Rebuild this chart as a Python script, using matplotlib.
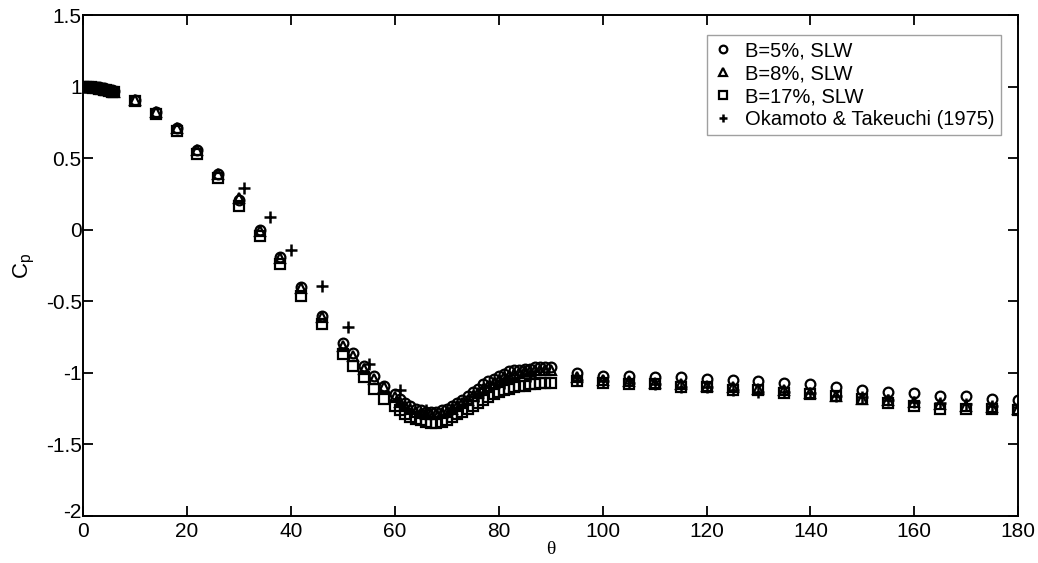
import numpy as np
import matplotlib
matplotlib.use("Agg")
import matplotlib.pyplot as plt
import matplotlib.transforms as mtransforms

# pressure coefficient around the cylinder

# stagnation region (0..6 deg, every 0.5)
theta_front = [0, 0.5, 1, 1.5, 2, 2.5, 3, 3.5, 4, 4.5, 5, 5.5, 6]
cp5_front = [1.0, 1.0, 1.0, 1.0, 1.0, 0.995, 0.995, 0.99, 0.99, 0.985, 0.98, 0.975, 0.97]
cp8_front = [1.0, 1.0, 1.0, 1.0, 0.995, 0.995, 0.99, 0.99, 0.985, 0.98, 0.975, 0.97, 0.965]
cp17_front = [1.0, 1.0, 0.995, 0.995, 0.99, 0.99, 0.985, 0.985, 0.98, 0.975, 0.97, 0.965, 0.96]

# coarse taps 10..58 deg
theta_mid = [10, 14, 18, 22, 26, 30, 34, 38, 42, 46, 50, 52, 54, 56, 58]
cp5_mid = [0.91, 0.82, 0.71, 0.56, 0.39, 0.21, 0.0, -0.19, -0.4, -0.6, -0.79, -0.86, -0.95, -1.02, -1.09]
cp8_mid = [0.91, 0.82, 0.71, 0.56, 0.39, 0.22, -0.01, -0.2, -0.41, -0.61, -0.81, -0.88, -0.97, -1.04, -1.1]
cp17_mid = [0.9, 0.81, 0.69, 0.53, 0.36, 0.17, -0.04, -0.24, -0.46, -0.66, -0.87, -0.95, -1.03, -1.11, -1.18]

# dense taps 60..90 deg
theta_dense = list(range(60, 91))
cp5_dense = [-1.15, -1.18, -1.21, -1.23, -1.25, -1.26, -1.27, -1.27, -1.27, -1.26, -1.25,
             -1.23, -1.21, -1.19, -1.16, -1.13, -1.11, -1.08, -1.06, -1.04, -1.02,
             -1.01, -0.99, -0.98, -0.98, -0.97, -0.97, -0.96, -0.96, -0.96, -0.96]
cp8_dense = [-1.17, -1.2, -1.23, -1.25, -1.27, -1.28, -1.29, -1.29, -1.29, -1.28, -1.27,
             -1.25, -1.23, -1.21, -1.19, -1.16, -1.14, -1.11, -1.09, -1.07, -1.05,
             -1.03, -1.02, -1.01, -1.0, -0.99, -0.99, -0.98, -0.98, -0.98, -0.98]
cp17_dense = [-1.23, -1.26, -1.29, -1.31, -1.32, -1.33, -1.34, -1.35, -1.35, -1.34, -1.33,
              -1.31, -1.29, -1.27, -1.25, -1.23, -1.21, -1.19, -1.17, -1.15, -1.13,
              -1.12, -1.11, -1.1, -1.09, -1.09, -1.08, -1.08, -1.07, -1.07, -1.07]

# rear taps 95..180 deg, every 5
theta_rear = list(range(95, 181, 5))
cp5_rear = [-1.0, -1.02, -1.02, -1.03, -1.03, -1.04, -1.05, -1.06, -1.07,
            -1.08, -1.1, -1.12, -1.13, -1.14, -1.16, -1.16, -1.18, -1.19]
cp8_rear = [-1.03, -1.05, -1.06, -1.07, -1.08, -1.09, -1.1, -1.11, -1.12,
            -1.14, -1.16, -1.18, -1.19, -1.2, -1.22, -1.23, -1.24, -1.25]
cp17_rear = [-1.06, -1.07, -1.08, -1.08, -1.1, -1.1, -1.12, -1.12, -1.14,
             -1.15, -1.16, -1.18, -1.21, -1.23, -1.25, -1.25, -1.25, -1.26]

# Okamoto & Takeuchi (1975)
theta_ok = [31, 36, 40, 46, 51, 55, 61, 66, 71, 76, 81, 86,
            95, 100, 105, 110, 115, 120, 125, 130, 135, 140, 145, 150, 155, 160, 165, 170, 175, 180]
cp_ok = [0.29, 0.09, -0.14, -0.39, -0.68, -0.94, -1.12, -1.26, -1.25, -1.16, -1.07, -1.02,
         -1.05, -1.06, -1.07, -1.08, -1.1, -1.1, -1.12, -1.13, -1.13, -1.14, -1.16, -1.17,
         -1.19, -1.2, -1.21, -1.22, -1.23, -1.24]

theta_all = theta_front + theta_mid + theta_dense + theta_rear
cp5 = cp5_front + cp5_mid + cp5_dense + cp5_rear
cp8 = cp8_front + cp8_mid + cp8_dense + cp8_rear
cp17 = cp17_front + cp17_mid + cp17_dense + cp17_rear

plt.rcParams['font.family'] = ['Liberation Sans', 'DejaVu Sans']

fig = plt.figure(figsize=(10.38, 5.63), dpi=100)
ax = fig.add_axes([0.080, 0.0835, 0.901, 0.8895])

mk = dict(linestyle='none', color='black', markerfacecolor='none',
          markeredgewidth=1.6, markersize=7)
ax.plot(theta_all, cp5, marker='o', label='B=5%, SLW', **mk)
ax.plot(theta_all, cp8, marker='^', label='B=8%, SLW', **mk)
ax.plot(theta_all, cp17, marker='s', label='B=17%, SLW', **mk)
ax.plot(theta_ok, cp_ok, linestyle='none', marker='+', color='black',
        markersize=8.5, markeredgewidth=1.8, label='Okamoto & Takeuchi (1975)')

ax.set_xlim(0, 180)
ax.set_ylim(-2, 1.5)
ax.set_xticks(np.arange(0, 181, 20))
ax.set_yticks([-2, -1.5, -1, -0.5, 0, 0.5, 1, 1.5])
ax.set_yticklabels(['-2', '-1.5', '-1', '-0.5', '0', '0.5', '1', '1.5'])
ax.tick_params(direction='in', length=7, width=1.3, labelsize=15,
               top=True, right=True, pad=4)
ax.tick_params(axis='y', pad=1)
for s in ax.spines.values():
    s.set_linewidth(1.4)

# nudge the bottom y label up a bit so it doesn't collide with the x "0"
lab = ax.get_yticklabels()[0]
lab.set_transform(lab.get_transform() + mtransforms.ScaledTranslation(0, 4 / 72, fig.dpi_scale_trans))

ax.set_ylabel('C$_\\mathregular{p}$', fontsize=16, labelpad=6)
ax.set_xlabel('θ', fontsize=14, family=['Liberation Serif', 'DejaVu Serif'], labelpad=0)

leg = ax.legend(loc='upper right', bbox_to_anchor=(0.981, 0.96), fontsize=14.5,
                frameon=True, fancybox=False, handlelength=1.0, handletextpad=0.6,
                labelspacing=0.2, borderpad=0.3, borderaxespad=0)
leg.get_frame().set_edgecolor('#888888')
leg.get_frame().set_linewidth(1.0)
for h in leg.legend_handles:
    h.set_markersize(5.5)

fig.savefig('out.png', dpi=100)
